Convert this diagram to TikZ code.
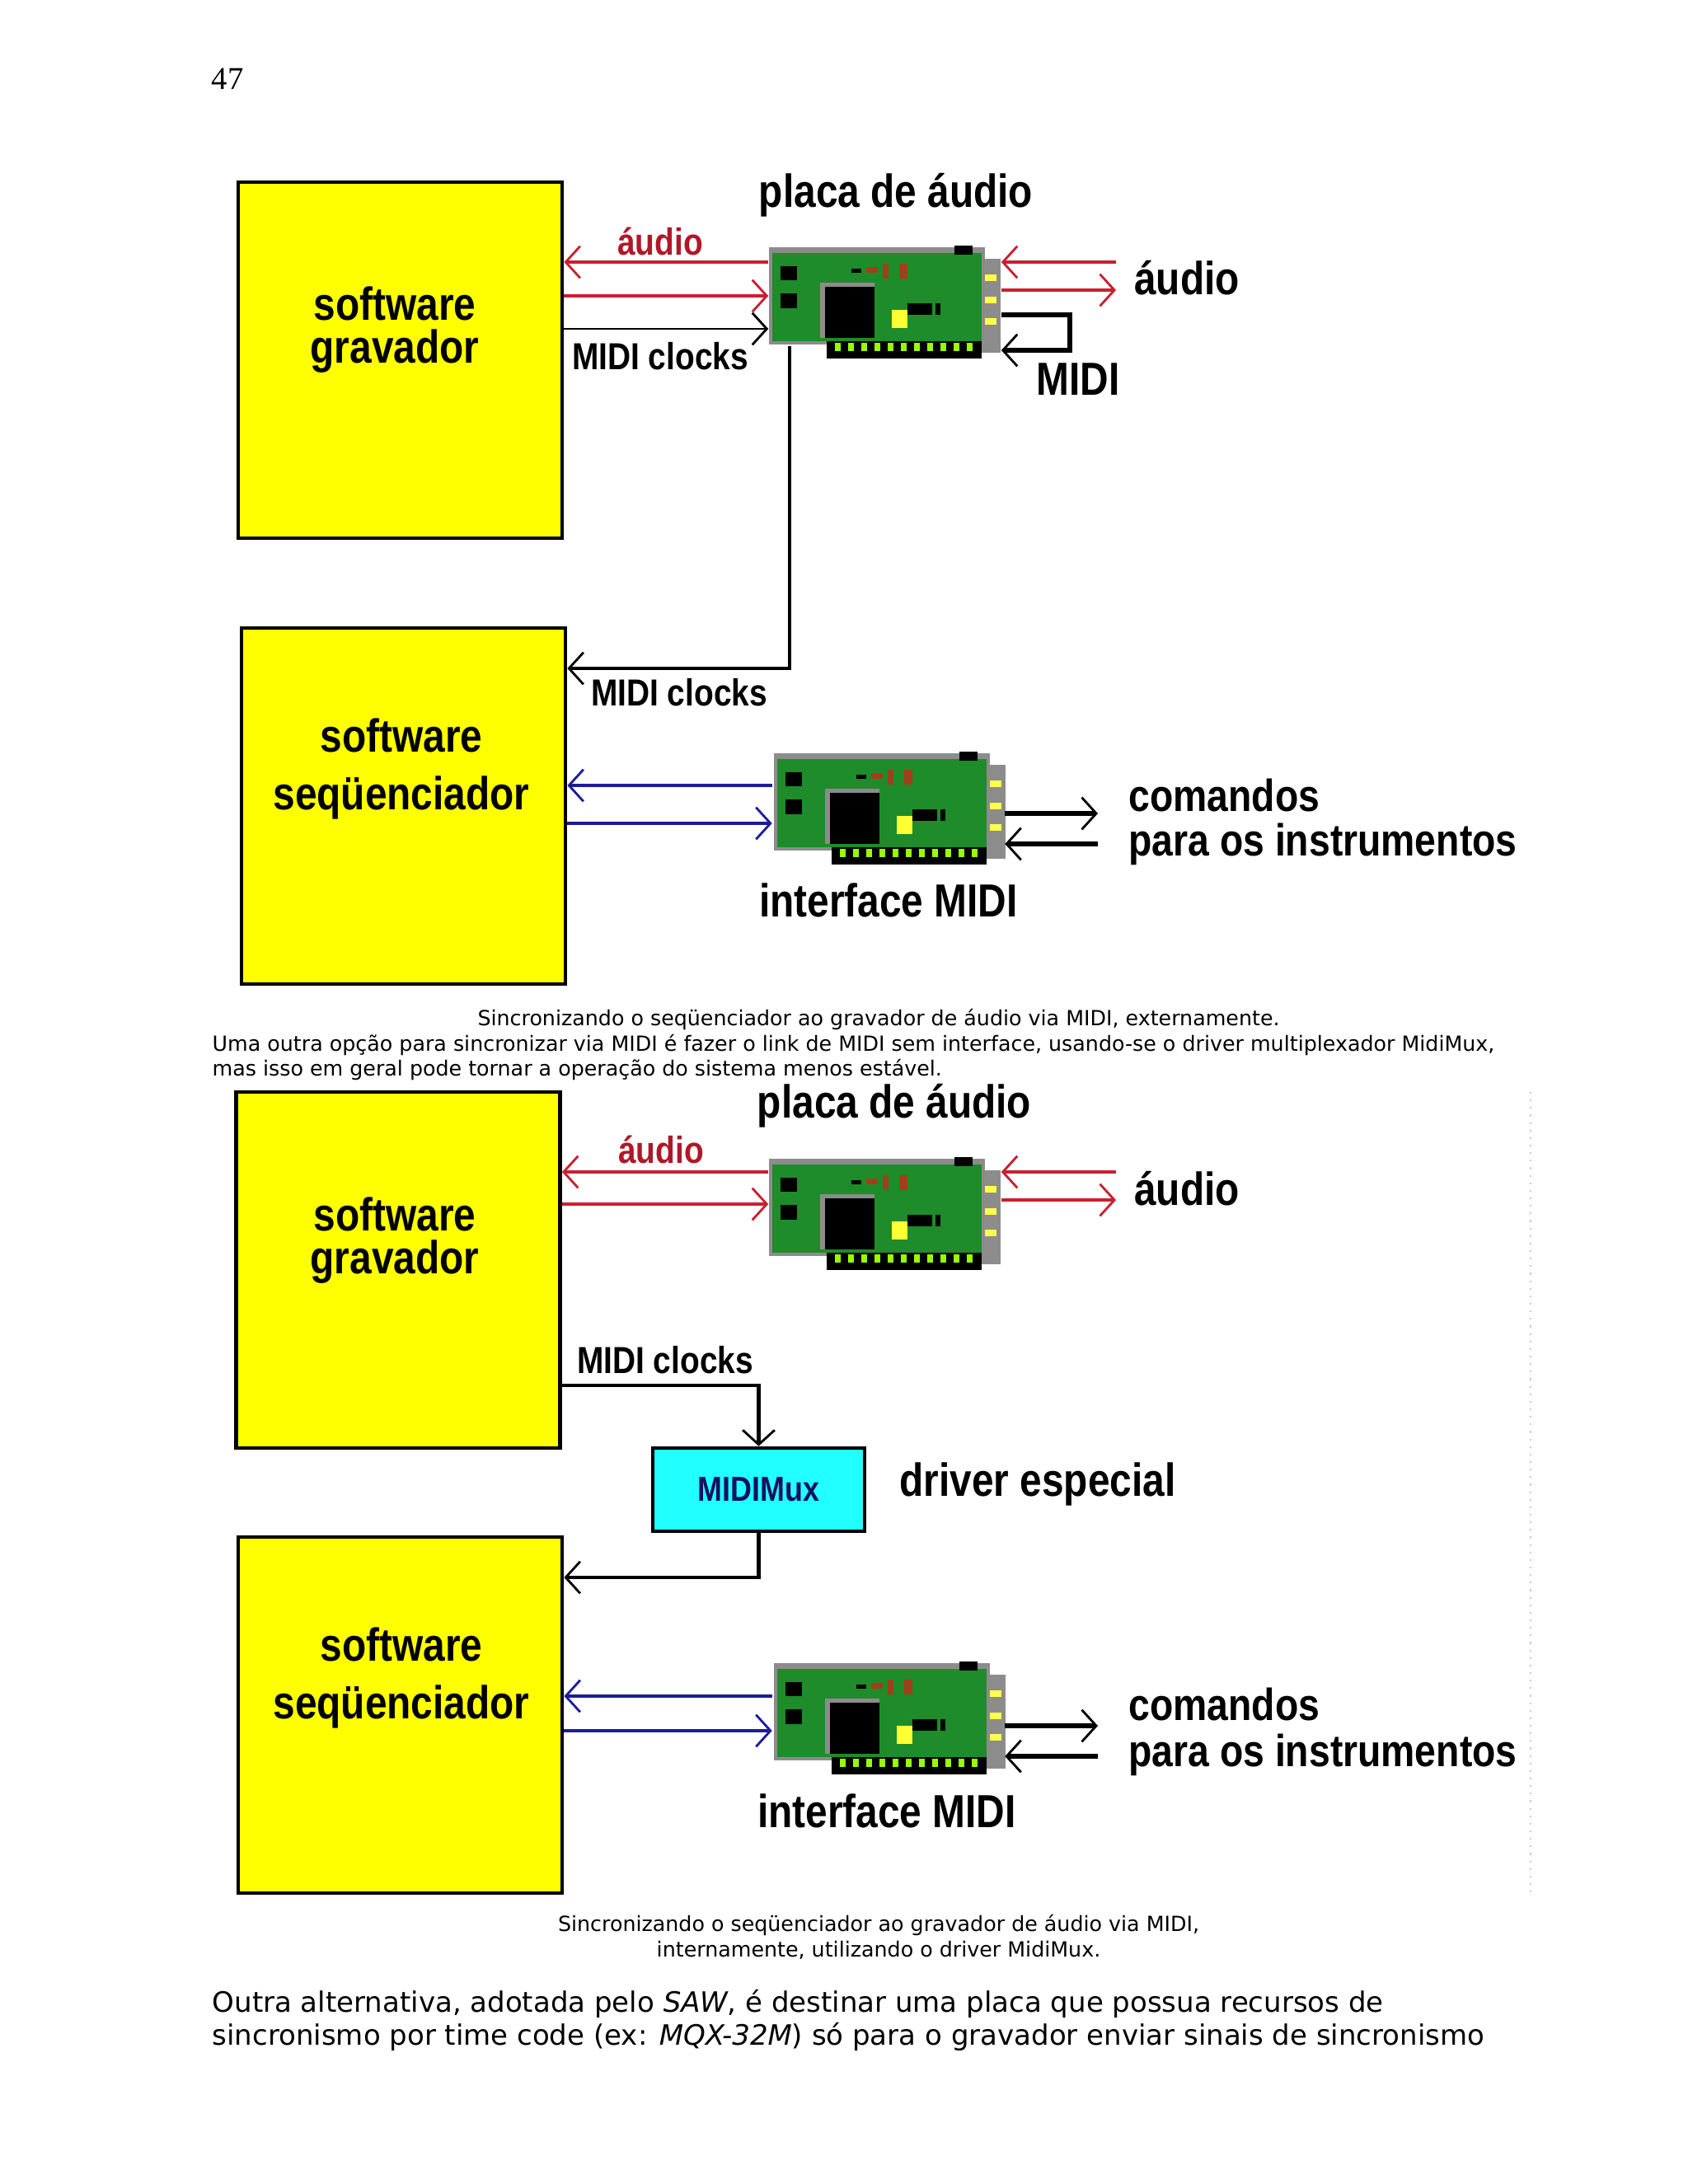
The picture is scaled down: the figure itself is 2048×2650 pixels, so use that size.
\documentclass[tikz,border=0pt]{standalone}
\usepackage{fontspec}
\setmainfont{DejaVu Sans}
\newfontfamily\lab{Liberation Sans}
\newfontfamily\numf{Liberation Serif}
\usetikzlibrary{arrows.meta}
\definecolor{ylw}{HTML}{FFFF00}
\definecolor{rd}{HTML}{C82030}
\definecolor{rdt}{HTML}{B01828}
\definecolor{bl}{HTML}{1C1C9C}
\definecolor{cy}{HTML}{22FFFF}
\definecolor{gr}{HTML}{1E8C2A}
\definecolor{gy}{HTML}{8C8C8C}
\definecolor{br}{HTML}{A0401A}
\newcommand{\lb}[2]{\scalebox{0.85}[1]{\fontsize{#1}{#1}\lab\bfseries #2}}
\newcommand{\mycard}[2]{%
\begin{scope}[shift={(#1,#2)}]
 \fill[gy] (0,2) rectangle (262,120);
 \fill[gr] (4,9) rectangle (258,116);
 \fill[black] (225,0) rectangle (247,11);
 \fill[gy] (258,16) rectangle (281,130);
 \foreach \yy in {35,62,88} {\fill[ylw!70!white] (262,\yy) rectangle (276,\yy+8);}
 \fill[black] (70,116) rectangle (258,137);
 \foreach \xx in {80,96,...,245} {\fill[ylw!60!green] (\xx,118) rectangle (\xx+7,128);}
 \fill[black] (14,25) rectangle (34,42);
 \fill[black] (14,58) rectangle (34,76);
 \fill[gy] (62,45) rectangle (128,112);
 \fill[black] (68,50) rectangle (128,112);
 \fill[ylw!80!white] (149,78) rectangle (168,100);
 \fill[black] (168,70) rectangle (198,84);
 \fill[black] (202,70) rectangle (208,84);
 \fill[br] (118,26) rectangle (132,33);
 \fill[br] (138,22) rectangle (145,40);
 \fill[br] (158,22) rectangle (168,40);
 \fill[black] (100,28) rectangle (112,33);
\end{scope}}
\tikzset{
 ybox/.style={draw=black,line width=1.3pt,fill=ylw,minimum width=3.93cm,minimum height=4.32cm,inner sep=0pt},
 card/.style={minimum width=2.81cm,minimum height=1.37cm,inner sep=0pt},
 tip/.style={-{Straight Barb[length=5pt,width=11pt,line width=0.8pt]}},
 redl/.style={rd,line width=1.3pt,tip},
 blul/.style={bl,line width=1.2pt,tip},
 blk/.style={black,line width=1.1pt,tip},
 blkt/.style={black,line width=1.8pt,tip},
 captxt/.style={font=\fontsize{7.2}{8.6}\selectfont,inner sep=0pt},
 body/.style={font=\fontsize{9.67}{11}\selectfont,inner sep=0pt,anchor=west},
}
\begin{document}
\begin{tikzpicture}[x=0.01cm,y=-0.01cm]
\useasboundingbox[fill=white] (0,0) rectangle (2048,2650);
\node[font=\numf\fontsize{11}{11}\selectfont] (pg) at (276,96) {47};
% ---------- top diagram
\node[ybox] (b1) at (485.5,437) {};
\node[align=center] (t1) at (479,400) {\lb{16}{software}\\[3pt]\lb{16}{gravador}};
\node[ybox] (b2) at (489.5,978) {};
\node[align=center] (t2) at (487,933) {\lb{16}{software}\\[8pt]\lb{16}{seqüenciador}};
\node[card] (c1) at (1073.5,366.5) {};
\mycard{933}{298}
\node[card] (c2) at (1078,981) {};
\mycard{939}{912}
\node (pl1) at (1087,237) {\lb{16}{placa de áudio}};
\node[text=rdt] (au1) at (801,293) {\lb{13}{áudio}};
\node (mc1) at (801,432) {\lb{13}{MIDI clocks}};
\node (au2) at (1440,337) {\lb{16}{áudio}};
\node (mi1) at (1308,460) {\lb{16}{MIDI}};
\node (mc2) at (824,840) {\lb{13}{MIDI clocks}};
\node (co1) [anchor=west] at (1357,965) {\lb{15.5}{comandos}};
\node (pi1) [anchor=west] at (1357,1024) {\lb{15.5}{para os instrumentos}};
\node (im1) at (1078,1092) {\lb{16}{interface MIDI}};
\draw[redl] (c1.west |- 0,318) -- (b1.east |- 0,318);
\draw[redl] (b1.east |- 0,359) -- (c1.west |- 0,359);
\draw[blk,line width=0.8pt] (b1.east |- 0,399) -- (c1.west |- 0,399);
\draw[redl] (1354,318) -- (c1.east |- 0,318);
\draw[redl] (c1.east |- 0,352) -- (1354,352);
\draw[blkt] (c1.east |- 0,382) -- (1298,382) -- (1298,425) -- (c1.east |- 0,425);
\draw[blk,line width=1.3pt] (958,420) -- (958,811) -- (b2.east |- 0,811);
\draw[blul] (c2.west |- 0,953) -- (b2.east |- 0,953);
\draw[blul] (b2.east |- 0,999) -- (c2.west |- 0,999);
\draw[blkt] (c2.east |- 0,987) -- (1332,987);
\draw[blkt] (1332,1024) -- (c2.east |- 0,1024);
\node[captxt] (cp1) at (1066,1237) {Sincronizando o seqüenciador ao gravador de áudio via MIDI, externamente.};
\node[captxt,anchor=west] (cp2) at (257,1268) {Uma outra opção para sincronizar via MIDI é fazer o link de MIDI sem interface, usando-se o driver multiplexador MidiMux,};
\node[captxt,anchor=west] (cp3) at (257,1298) {mas isso em geral pode tornar a operação do sistema menos estável.};
% ---------- bottom diagram
\draw[gray!40,dotted,line width=0.6pt] (1857,1325) -- (1857,2297);
\node[ybox] (b3) at (483,1541) {};
\node[align=center] (t3) at (479,1505) {\lb{16}{software}\\[3pt]\lb{16}{gravador}};
\node[ybox] (b4) at (485.5,2081) {};
\node[align=center] (t4) at (487,2036) {\lb{16}{software}\\[8pt]\lb{16}{seqüenciador}};
\node[card] (c3) at (1073.5,1472.5) {};
\mycard{933}{1404}
\node[card] (c4) at (1078,2085) {};
\mycard{939}{2016}
\node[draw=black,line width=1.3pt,fill=cy,minimum width=2.57cm,minimum height=1.01cm,inner sep=0pt] (mm) at (920.5,1807.5) {\textcolor{bl!60!black}{\lb{12}{MIDIMux}}};
\node (pl2) at (1085,1342) {\lb{16}{placa de áudio}};
\node[text=rdt] (au3) at (802,1395) {\lb{13}{áudio}};
\node (au4) at (1440,1442) {\lb{16}{áudio}};
\node (mc3) at (807,1650) {\lb{13}{MIDI clocks}};
\node (de) at (1259,1801) {\lb{16}{driver especial}};
\node (co2) [anchor=west] at (1357,2068) {\lb{15.5}{comandos}};
\node (pi2) [anchor=west] at (1357,2129) {\lb{15.5}{para os instrumentos}};
\node (im2) at (1076,2197) {\lb{16}{interface MIDI}};
\draw[redl] (c3.west |- 0,1422) -- (b3.east |- 0,1422);
\draw[redl] (b3.east |- 0,1461) -- (c3.west |- 0,1461);
\draw[redl] (1354,1422) -- (c3.east |- 0,1422);
\draw[redl] (c3.east |- 0,1456) -- (1354,1456);
\draw[blk,line width=1.3pt] (b3.east |- 0,1681) -- (mm.north |- 0,1681) -- (mm.north);
\draw[blk,line width=1.3pt] (mm.south) -- (mm.south |- 0,1914) -- (b4.east |- 0,1914);
\draw[blul] (c4.west |- 0,2058) -- (b4.east |- 0,2058);
\draw[blul] (b4.east |- 0,2100) -- (c4.west |- 0,2100);
\draw[blkt] (c4.east |- 0,2094) -- (1332,2094);
\draw[blkt] (1332,2131) -- (c4.east |- 0,2131);
\node[captxt] (cp4) at (1066,2336) {Sincronizando o seqüenciador ao gravador de áudio via MIDI,};
\node[captxt] (cp5) at (1066,2366) {internamente, utilizando o driver MidiMux.};
\node[body] (bd1) at (257,2431) {Outra alternativa, adotada pelo \textit{SAW}, é destinar uma placa que possua recursos de};
\node[body] (bd2) at (257,2471) {sincronismo por time code (ex: \textit{MQX-32M}) só para o gravador enviar sinais de sincronismo};
\end{tikzpicture}
\end{document}
